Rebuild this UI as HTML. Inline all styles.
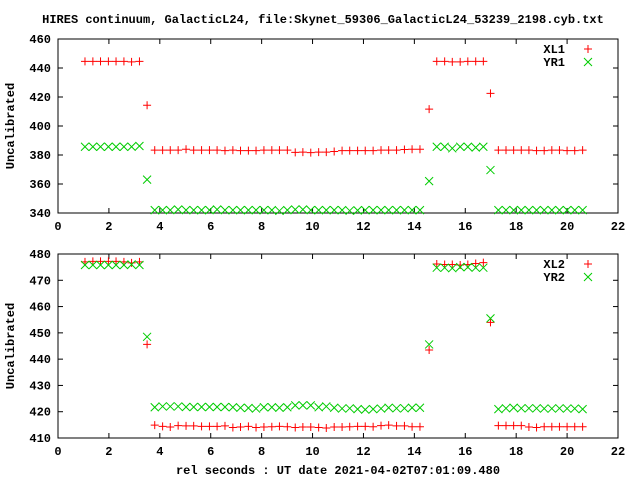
<!DOCTYPE html>
<html><head><meta charset="utf-8"><style>
body{margin:0;background:#fff;}
svg{display:block;font-family:"Liberation Mono",monospace;font-weight:bold;font-size:12px;}
</style></head><body>
<svg id="chart" width="640" height="480" viewBox="0 0 640 480" xmlns="http://www.w3.org/2000/svg">
<text x="323" y="23" text-anchor="middle">HIRES continuum, GalacticL24, file:Skynet_59306_GalacticL24_53239_2198.cyb.txt</text>
<text x="338" y="474" text-anchor="middle">rel seconds : UT date 2021-04-02T07:01:09.480</text>
</svg>
<script>
const xTicks=[0,2,4,6,8,10,12,14,16,18,20,22];
const topYTicks=[340,360,380,400,420,440,460];
const botYTicks=[410,420,430,440,450,460,470,480];
const xs=[1.06,1.37,1.67,1.98,2.28,2.59,2.89,3.2,
3.5,
3.80,4.11,4.41,4.72,5.03,5.33,5.64,5.95,6.25,6.56,6.87,7.17,7.48,7.78,8.09,8.40,8.70,9.01,9.32,9.62,9.93,10.24,10.54,10.85,11.16,11.46,11.77,12.07,12.38,12.69,12.99,13.30,13.61,13.91,14.22,
14.58,
14.88,15.19,15.49,15.80,16.10,16.41,16.71,
16.99,
17.30,17.60,17.90,18.20,18.50,18.80,19.10,19.40,19.70,20.00,20.30,20.61];
const xl1=[444.6,444.6,444.6,444.6,444.6,444.6,444.2,444.6,
414.3,
383.4,383.4,383.4,383.4,384,383.4,383.4,383.4,383.4,383,383.4,383,383,383,383.4,383.4,383.4,383.4,381.8,382,381.6,382,382,382.4,383,383,383,383,383,383.4,383.4,383.4,383.8,384,384,
411.6,
444.6,444.6,444.2,444.2,444.6,444.6,444.6,
422.5,
383.4,383.4,383.4,383.4,383.4,383,383,383.4,383.4,383,383,383.4];
const yr1=[385.7,385.7,385.7,385.7,385.7,385.7,385.7,386.2,
363,
342,342,342,342.4,342,342,342,342,342.4,342,342,342,342,342,342,342,341.5,342,342.4,342.4,342,342,342,342,342,341.6,341.8,342,342,342,342,342,342,342,342,
362,
385.7,385.7,384.6,385.7,385.7,385.2,385.7,
369.6,
342,342,342,342,342,342,342,342,342,342,342,342];
const xl2=[477,477.2,477.2,477.2,477.2,477,476.6,477,
445.6,
414.9,414.4,414.2,414.7,414.6,414.6,414.4,414.4,414.4,414.6,414,414.2,414.4,414,414.2,414.3,414.4,414.3,414,414.2,414.2,414,413.8,414.2,414.2,414.3,414.4,414.4,414.3,414.7,414.9,414.6,414.6,414.3,414.3,
443.5,
476.2,476,476,475.8,476,476.4,476.7,
454,
414.7,414.7,414.7,414.7,414.2,414,414.3,414.3,414.3,414.3,414.3,414.3];
const yr2=[475.8,475.8,475.8,475.8,475.8,475.8,476,475.8,
448.5,
421.7,422,422,422,421.8,421.8,421.8,421.8,421.8,421.8,421.7,421.5,421.4,421.2,421.7,421.7,421.5,421.7,422.4,422.4,422.4,421.7,422,421.5,421.2,421.3,421,420.8,421,421.2,421.5,421.3,421.3,421.5,421.5,
445.6,
474.8,474.8,474.6,475,475,474.8,474.8,
455.5,
421,421.3,421.5,421.3,421.3,421.3,421.2,421.2,421.3,421.2,421.2,421];
const svg=document.getElementById('chart');
const NS='http://www.w3.org/2000/svg';
function mk(tag,attrs,parent){const e=document.createElementNS(NS,tag);for(const k in attrs)e.setAttribute(k,attrs[k]);(parent||svg).appendChild(e);return e;}
const L=58,R=618;
function sx(v){return L+(v-0)/(22-0)*(R-L);}
function panel(name,top,bot,ymin,ymax,yTicks,sA,sB,labA,labB){
  const g=mk('g',{});
  
  
  const sy=v=>bot-(v-ymin)/(ymax-ymin)*(bot-top);
  const frame=mk('rect',{x:L,y:top,width:R-L,height:bot-top,fill:'none',stroke:'#000','stroke-width':1},g);
  
  
  xTicks.forEach(t=>{const x=sx(t);
    mk('line',{x1:x,y1:bot,x2:x,y2:bot-5,stroke:'#000'},g);
    mk('line',{x1:x,y1:top,x2:x,y2:top+5,stroke:'#000'},g);
    const tl=mk('text',{x:x,y:bot+17,'text-anchor':'middle'},g);tl.textContent=t;
    
    });
  yTicks.forEach(t=>{const y=sy(t);
    mk('line',{x1:L,y1:y,x2:L+5,y2:y,stroke:'#000'},g);
    mk('line',{x1:R,y1:y,x2:R-5,y2:y,stroke:'#000'},g);
    const tl=mk('text',{x:51,y:y+4,'text-anchor':'end'},g);tl.textContent=t;
    
    });
  const yt=mk('text',{x:14,y:(top+bot)/2,'text-anchor':'middle',transform:'rotate(-90 14 '+((top+bot)/2)+')'},g);
  yt.textContent='Uncalibrated';
  
  
  const plus=(x,y,p)=>{mk('path',{d:`M${x-4},${y}h8M${x},${y-4}v8`,stroke:'#f00','stroke-width':1,fill:'none'},p);};
  const cross=(x,y,p)=>{mk('path',{d:`M${x-4},${y-4}l8,8M${x-4},${y+4}l8,-8`,stroke:'#0c0','stroke-width':1,fill:'none'},p);};
  const ga=mk('g',{},g);
  const gb=mk('g',{},g);
  sA.forEach((v,i)=>plus(sx(xs[i]),sy(v),ga));
  sB.forEach((v,i)=>cross(sx(xs[i]),sy(v),gb));
  const la=mk('text',{x:565,y:top+14,'text-anchor':'end'},g);la.textContent=labA;
  
  const lb=mk('text',{x:565,y:top+27,'text-anchor':'end'},g);lb.textContent=labB;
  
  plus(588,top+10,g);cross(588,top+23,g);
}
panel('top-panel',39,213,340,460,topYTicks,xl1,yr1,'XL1','YR1');
panel('bottom-panel',254,438,410,480,botYTicks,xl2,yr2,'XL2','YR2');
</script>
</body></html>
